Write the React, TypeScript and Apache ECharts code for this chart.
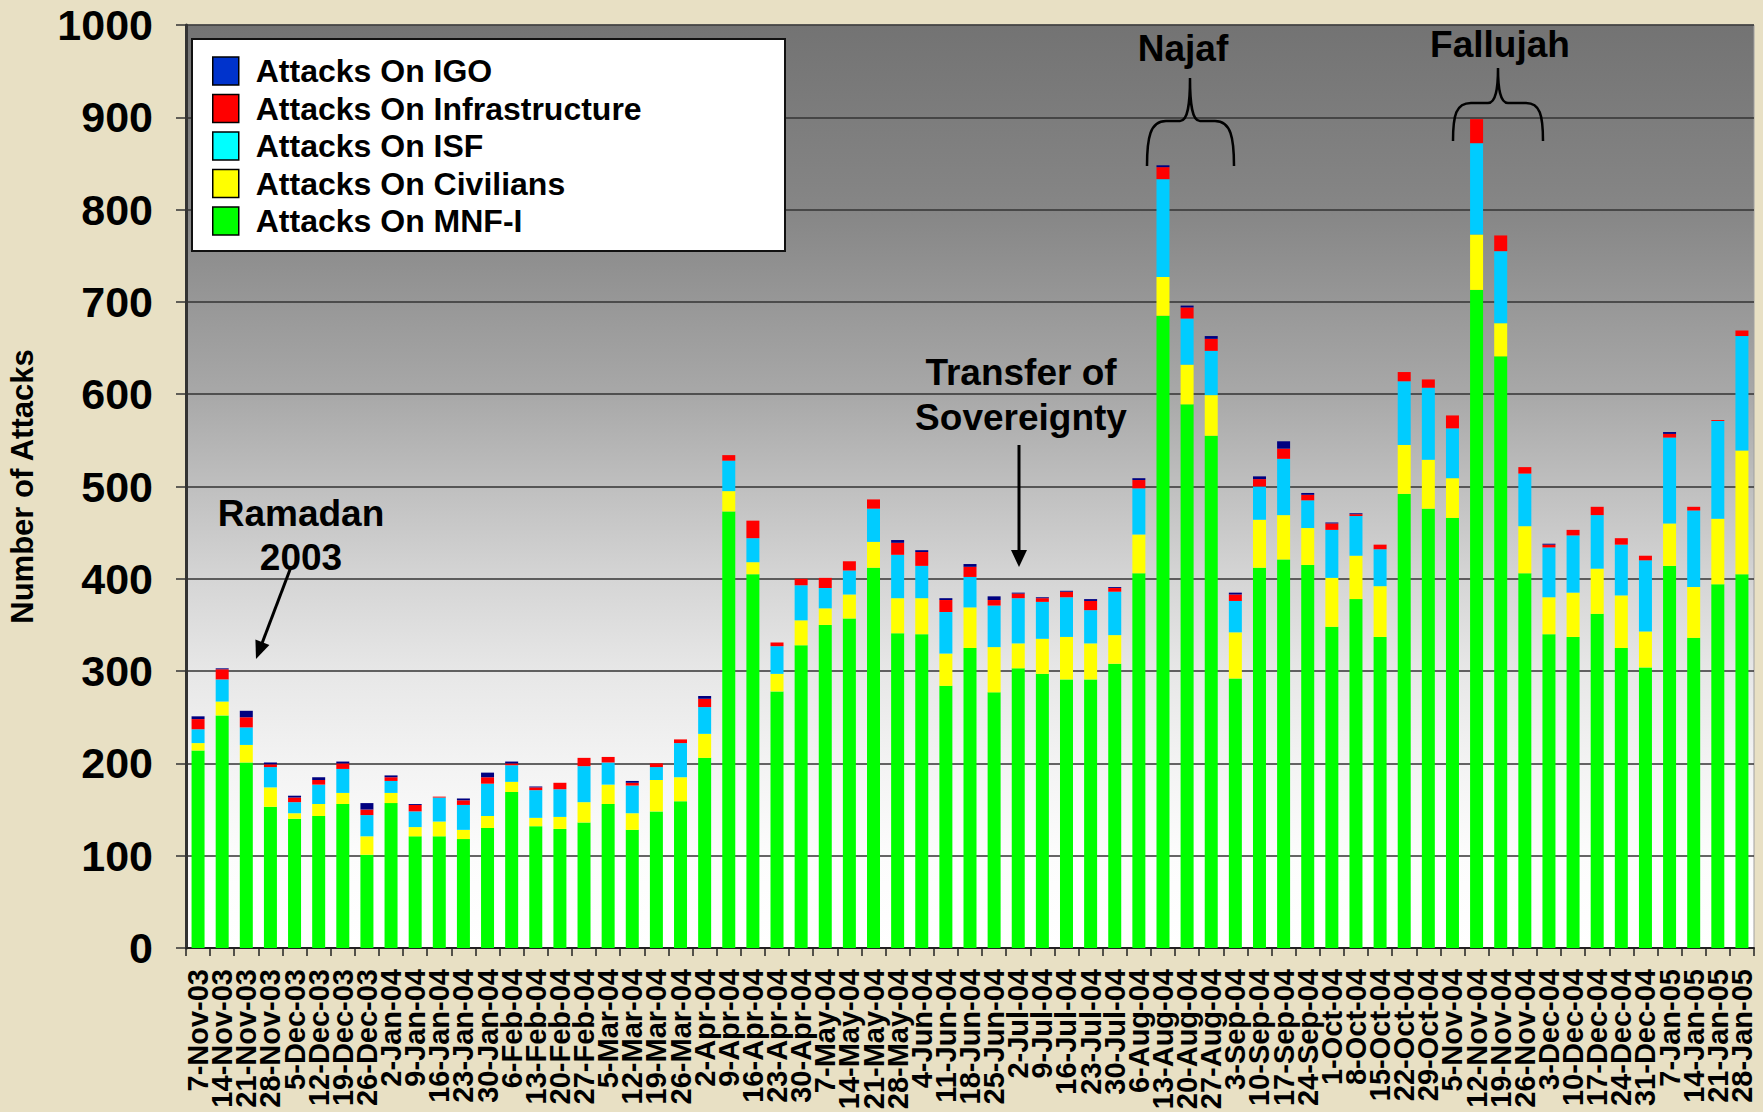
import React, { useEffect, useRef } from "react";
import * as echarts from "echarts";

const WEEKS = [
  "7-Nov-03", "14-Nov-03", "21-Nov-03", "28-Nov-03", "5-Dec-03", "12-Dec-03", "19-Dec-03", "26-Dec-03",
  "2-Jan-04", "9-Jan-04", "16-Jan-04", "23-Jan-04", "30-Jan-04", "6-Feb-04", "13-Feb-04", "20-Feb-04",
  "27-Feb-04", "5-Mar-04", "12-Mar-04", "19-Mar-04", "26-Mar-04", "2-Apr-04", "9-Apr-04", "16-Apr-04",
  "23-Apr-04", "30-Apr-04", "7-May-04", "14-May-04", "21-May-04", "28-May-04", "4-Jun-04", "11-Jun-04",
  "18-Jun-04", "25-Jun-04", "2-Jul-04", "9-Jul-04", "16-Jul-04", "23-Jul-04", "30-Jul-04", "6-Aug-04",
  "13-Aug-04", "20-Aug-04", "27-Aug-04", "3-Sep-04", "10-Sep-04", "17-Sep-04", "24-Sep-04", "1-Oct-04",
  "8-Oct-04", "15-Oct-04", "22-Oct-04", "29-Oct-04", "5-Nov-04", "12-Nov-04", "19-Nov-04", "26-Nov-04",
  "3-Dec-04", "10-Dec-04", "17-Dec-04", "24-Dec-04", "31-Dec-04", "7-Jan-05", "14-Jan-05", "21-Jan-05",
  "28-Jan-05",
];

const MNF = [
  214, 252, 201, 153, 140, 143, 156, 101, 157, 121, 121, 118, 130, 169, 132, 129,
  136, 156, 128, 148, 159, 206, 473, 405, 278, 328, 350, 357, 412, 341, 340, 284,
  325, 277, 303, 297, 291, 291, 308, 406, 685, 589, 555, 292, 412, 421, 415, 348,
  378, 337, 492, 476, 466, 713, 641, 406, 340, 337, 362, 325, 304, 414, 336, 394,
  405,
];
const CIVILIANS = [
  8, 15, 19, 21, 6, 13, 12, 20, 11, 10, 16, 10, 13, 11, 9, 13,
  22, 21, 18, 34, 26, 26, 22, 13, 19, 27, 18, 26, 28, 38, 39, 35,
  44, 49, 27, 38, 46, 39, 31, 42, 42, 43, 44, 50, 52, 48, 40, 53,
  47, 55, 53, 53, 43, 60, 36, 51, 40, 48, 49, 57, 39, 46, 55, 71,
  134,
];
const ISF = [
  15, 24, 19, 22, 12, 21, 26, 23, 13, 17, 26, 27, 35, 18, 30, 30,
  39, 24, 30, 14, 37, 29, 33, 26, 30, 38, 22, 26, 36, 47, 35, 45,
  33, 45, 49, 40, 43, 36, 47, 50, 106, 50, 48, 34, 36, 61, 30, 52,
  43, 40, 69, 78, 54, 99, 78, 57, 54, 62, 58, 55, 77, 93, 83, 106,
  124,
];
const INFRASTRUCTURE = [
  11, 11, 11, 3, 5, 5, 6, 6, 4, 7, 1, 5, 7, 2, 3, 7,
  9, 6, 3, 4, 4, 9, 6, 19, 4, 7, 11, 10, 10, 13, 15, 13,
  11, 6, 5, 4, 6, 10, 4, 9, 13, 12, 13, 7, 8, 11, 6, 7,
  2, 5, 10, 9, 14, 26, 17, 7, 3, 6, 9, 7, 5, 4, 4, 1,
  6,
];
const IGO = [
  3, 1, 7, 2, 2, 3, 2, 7, 2, 1, 0, 2, 5, 2, 1, 0,
  0, 0, 2, 0, 0, 3, 0, 0, 0, 0, 0, 0, 0, 3, 2, 2,
  3, 4, 1, 1, 1, 2, 1, 2, 2, 2, 3, 2, 3, 8, 2, 1,
  1, 0, 0, 0, 0, 0, 0, 0, 1, 0, 0, 0, 0, 2, 0, 0,
  0,
];

const Y_MIN = 0;
const Y_MAX = 1000;
const Y_STEP = 100;

const FONT = "'Liberation Sans', Arial, sans-serif";

echarts.graphic.registerShape(
  "braceNajaf",
  echarts.graphic.extendPath(
    "M1147,166 C1147,138 1150,121 1166,121 L1180,121 C1188,121 1190,104 1190,78 C1190,104 1192,121 1200,121 L1215,121 C1231,121 1234,138 1234,166",
    {}
  )
);
echarts.graphic.registerShape(
  "braceFallujah",
  echarts.graphic.extendPath(
    "M1453,141 C1453,115 1456,103 1471,103 L1488,103 C1496,103 1498,88 1498,68 C1498,88 1500,103 1508,103 L1526,103 C1540,103 1543,115 1543,141",
    {}
  )
);

export default function App() {
  const ref = useRef<HTMLDivElement>(null);

  useEffect(() => {
    if (!ref.current) return;
    const chart = echarts.init(ref.current, undefined, { renderer: "svg" });

    const seriesDefs = [
      { name: "Attacks On MNF-I", data: MNF, color: "#00ff00" },
      { name: "Attacks On Civilians", data: CIVILIANS, color: "#ffff00" },
      { name: "Attacks On ISF", data: ISF, color: "#00ccff" },
      { name: "Attacks On Infrastructure", data: INFRASTRUCTURE, color: "#ff0000" },
      { name: "Attacks On IGO", data: IGO, color: "#000080" },
    ];

    const legendColors: Record<string, string> = {
      "Attacks On IGO": "#0033cc",
      "Attacks On Infrastructure": "#ff0000",
      "Attacks On ISF": "#00ffff",
      "Attacks On Civilians": "#ffff00",
      "Attacks On MNF-I": "#00ff00",
    };
    const legendOrder = [
      "Attacks On IGO",
      "Attacks On Infrastructure",
      "Attacks On ISF",
      "Attacks On Civilians",
      "Attacks On MNF-I",
    ];

    const annotationFont = { fontSize: 37, fontWeight: "bold", fontFamily: FONT, fill: "#000", align: "center", verticalAlign: "middle" };

    const option: any = {
      animation: false,
      backgroundColor: "#e8e0c4",
      textStyle: { fontFamily: FONT },
      grid: {
        left: 186,
        top: 25,
        right: 9,
        bottom: 164,
        containLabel: false,
        outerBoundsMode: "none",
        show: true,
        borderColor: "#a0a0a0",
        borderWidth: 1,
        backgroundColor: {
          type: "linear",
          x: 0,
          y: 0,
          x2: 0,
          y2: 1,
          colorStops: [
            { offset: 0, color: "#737373" },
            { offset: 0.2, color: "#868686" },
            { offset: 0.4, color: "#a8a8a8" },
            { offset: 0.5, color: "#bfbfbf" },
            { offset: 0.6, color: "#d5d5d5" },
            { offset: 0.7, color: "#e7e7e7" },
            { offset: 0.8, color: "#f3f3f3" },
            { offset: 0.9, color: "#fcfcfc" },
            { offset: 1, color: "#ffffff" },
          ],
        },
      },
      legend: {
        orient: "vertical",
        left: 212,
        top: 55,
        z: 10,
        itemWidth: 26,
        itemHeight: 28,
        itemGap: 5.5,
        icon: "rect",
        padding: 0,
        selectedMode: false,
        textStyle: { fontSize: 32, fontWeight: "bold", color: "#000", fontFamily: FONT, padding: [0, 0, 0, 12] },
        data: legendOrder.map((n) => ({
          name: n,
          itemStyle: { color: legendColors[n], borderColor: "#000", borderWidth: 1.5 },
        })),
      },
      xAxis: {
        type: "category",
        data: WEEKS,
        boundaryGap: true,
        axisLine: { show: true, lineStyle: { color: "#222", width: 2 } },
        axisTick: { show: true, interval: 0, length: 8, lineStyle: { color: "#222", width: 1.5 } },
        axisLabel: {
          interval: 0,
          rotate: 90,
          fontSize: 29,
          fontWeight: "bold",
          color: "#000",
          fontFamily: FONT,
          margin: 21,
        },
        splitLine: { show: false },
      },
      yAxis: {
        type: "value",
        min: Y_MIN,
        max: Y_MAX,
        interval: Y_STEP,
        name: "Number of Attacks",
        nameLocation: "middle",
        nameGap: 148,
        nameTextStyle: { fontSize: 31, fontWeight: "bold", color: "#000", fontFamily: FONT },
        axisLine: { show: true, lineStyle: { color: "#333", width: 3 } },
        axisTick: { show: true, length: 10, lineStyle: { color: "#333", width: 1.5 } },
        axisLabel: {
          fontSize: 43,
          fontWeight: "bold",
          color: "#000",
          fontFamily: FONT,
          margin: 33,
          formatter: (v: number) => String(v),
        },
        splitLine: { show: true, lineStyle: { color: "#333", width: 1.5 } },
      },
      series: seriesDefs.map((s) => ({
        name: s.name,
        type: "bar",
        stack: "total",
        barWidth: 13,
        data: s.data,
        itemStyle: { color: s.color },
        emphasis: { disabled: true },
      })),
      graphic: [
        {
          type: "rect",
          z: 5,
          shape: { x: 192, y: 39, width: 593, height: 212 },
          style: { fill: "#ffffff", stroke: "#111", lineWidth: 2 },
        },
        { type: "text", z: 6, x: 1183, y: 48, style: { ...annotationFont, text: "Najaf" } },
        { type: "text", z: 6, x: 1500, y: 44, style: { ...annotationFont, text: "Fallujah" } },
        { type: "text", z: 6, x: 1021, y: 372, style: { ...annotationFont, text: "Transfer of" } },
        { type: "text", z: 6, x: 1021, y: 417, style: { ...annotationFont, text: "Sovereignty" } },
        { type: "text", z: 6, x: 301, y: 513, style: { ...annotationFont, text: "Ramadan" } },
        { type: "text", z: 6, x: 301, y: 557, style: { ...annotationFont, text: "2003" } },
        { type: "braceNajaf", z: 6, x: 0, y: 0, scaleX: 1, scaleY: 1, style: { fill: "none", stroke: "#000", lineWidth: 2.5 } },
        { type: "braceFallujah", z: 6, x: 0, y: 0, scaleX: 1, scaleY: 1, style: { fill: "none", stroke: "#000", lineWidth: 2.5 } },
        { type: "line", z: 6, shape: { x1: 1019, y1: 445, x2: 1019, y2: 555 }, style: { stroke: "#000", lineWidth: 3 } },
        { type: "polygon", z: 6, shape: { points: [[1011, 550], [1027, 550], [1019, 567]] }, style: { fill: "#000" } },
        { type: "line", z: 6, shape: { x1: 291, y1: 567, x2: 261, y2: 646 }, style: { stroke: "#000", lineWidth: 3 } },
        { type: "polygon", z: 6, shape: { points: [[269.4, 644.9], [255.4, 639.5], [256, 659]] }, style: { fill: "#000" } },
      ],
    };

    chart.setOption(option);
    return () => chart.dispose();
  }, []);

  return (
    <div
      ref={ref}
      style={{ position: "absolute", left: 0, top: 0, width: 1763, height: 1112 }}
    />
  );
}
